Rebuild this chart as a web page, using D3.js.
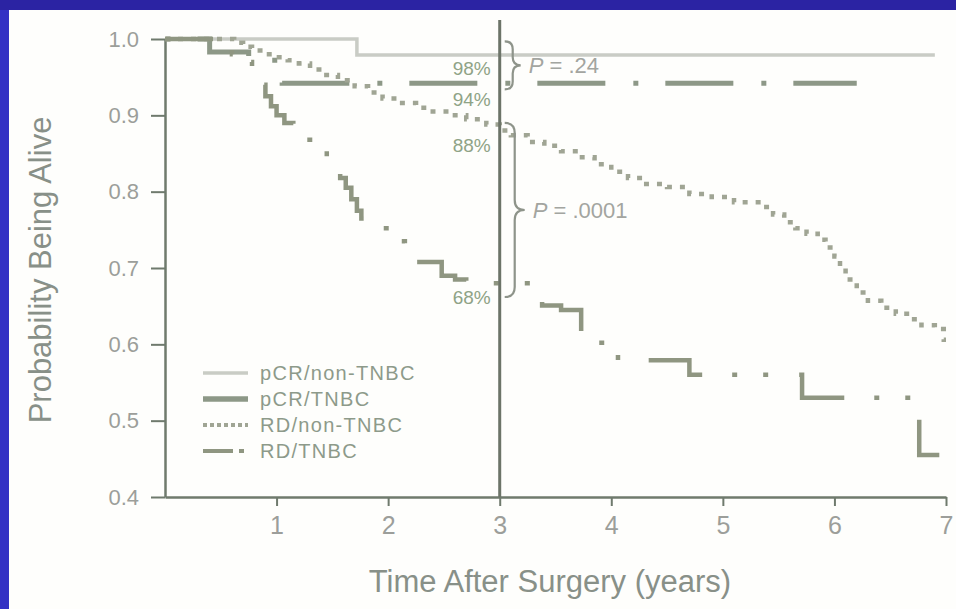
<!DOCTYPE html>
<html>
<head>
<meta charset="utf-8">
<script src="https://cdn.jsdelivr.net/npm/d3@7"></script>
<style>
  body { margin: 0; background: #2b23a3; }
  svg { display: block; }
  text { font-family: "Liberation Sans", Arial, sans-serif; }
</style>
</head>
<body>
<svg id="chart" width="956" height="609"></svg>
<script>
// ---- data ----
const timeTicks = [1, 2, 3, 4, 5, 6, 7];
const probTicks = [0.4, 0.5, 0.6, 0.7, 0.8, 0.9, 1.0];
const seriesNames = ["pCR/non-TNBC", "pCR/TNBC", "RD/non-TNBC", "RD/TNBC"];

// [years, survival] step points (value holds until next point)
const pcrNonTnbc = [[0, 1.0], [1.72, 0.979], [6.9, 0.979]];
const pcrTnbc = [[0, 1.0], [0.4, 0.983], [0.75, 0.972], [1.05, 0.942], [6.2, 0.942]];
const rdNonTnbc = [
  [0, 1.0], [0.62, 0.995], [0.7, 0.99], [0.78, 0.985], [0.88, 0.98], [1.0, 0.976],
  [1.1, 0.972], [1.2, 0.968], [1.3, 0.96], [1.42, 0.953], [1.55, 0.946], [1.7, 0.938],
  [1.82, 0.93], [1.95, 0.922], [2.1, 0.916], [2.25, 0.91], [2.4, 0.905], [2.55, 0.9],
  [2.7, 0.895], [2.88, 0.888], [3.0, 0.88], [3.1, 0.874], [3.25, 0.865], [3.4, 0.86],
  [3.55, 0.853], [3.7, 0.845], [3.85, 0.836], [4.0, 0.826], [4.15, 0.818], [4.28, 0.81],
  [4.5, 0.806], [4.7, 0.797], [4.9, 0.793], [5.1, 0.786], [5.35, 0.78], [5.45, 0.77],
  [5.55, 0.76], [5.65, 0.752], [5.75, 0.745], [5.85, 0.737], [5.92, 0.727], [6.0, 0.715],
  [6.05, 0.7], [6.1, 0.685], [6.2, 0.668], [6.3, 0.657], [6.42, 0.648], [6.55, 0.64],
  [6.65, 0.633], [6.78, 0.625], [6.9, 0.62], [6.98, 0.606], [7.0, 0.606]
];
const rdTnbc = [
  [0, 1.0], [0.45, 0.99], [0.6, 0.98], [0.72, 0.97], [0.78, 0.955], [0.85, 0.94],
  [0.9, 0.925], [0.95, 0.912], [1.0, 0.9], [1.07, 0.89], [1.15, 0.88], [1.27, 0.868],
  [1.37, 0.857], [1.45, 0.845], [1.52, 0.83], [1.57, 0.818], [1.62, 0.805], [1.67, 0.79],
  [1.72, 0.775], [1.76, 0.765], [1.9, 0.752], [2.05, 0.735], [2.15, 0.72], [2.26, 0.708],
  [2.48, 0.69], [2.6, 0.685], [2.7, 0.68], [3.25, 0.665], [3.38, 0.651], [3.55, 0.645],
  [3.73, 0.616], [3.89, 0.602], [4.06, 0.579], [4.7, 0.56], [5.71, 0.53], [6.76, 0.455],
  [6.94, 0.455]
];

// 3-year landmark labels
const landmarkYear = 3;
const pctLabels = ["98%", "94%", "88%", "68%"];
const pctValues = [0.98, 0.94, 0.88, 0.68];
const pLabels = ["= .24", "= .0001"];
const pRanges = [[0.997, 0.934], [0.89, 0.662]];

// ---- layout ----
const svg = d3.select("#chart");
const width = 956, height = 609;

svg.append("rect").attr("width", width).attr("height", height).attr("fill", "#2b23a3");
svg.append("rect").attr("x", 0).attr("y", 10).attr("width", 9).attr("height", height - 10).attr("fill", "#3331c4");
svg.append("rect").attr("x", 9).attr("y", 10).attr("width", width - 9).attr("height", height - 10).attr("fill", "#fefefc");

const x = d3.scaleLinear().domain([0, 7]).range([165, 946]);
const y = d3.scaleLinear().domain([0.4, 1.0]).range([497, 39]);

const axisColor = "#6f7a6d";
const tickText = "#9c9e9a";

// y axis
const gy = svg.append("g")
  .attr("transform", "translate(" + x(0) + ",0)")
  .call(d3.axisLeft(y).tickValues(probTicks).tickFormat(d3.format(".1f"))
    .tickSize(14).tickSizeOuter(0).tickPadding(12));
gy.select(".domain").attr("stroke", axisColor).attr("stroke-width", 2.5);
gy.selectAll(".tick line").attr("stroke", axisColor).attr("stroke-width", 2);
gy.selectAll(".tick text").attr("fill", tickText).style("font-size", "22px");

// x axis
const gx = svg.append("g")
  .attr("transform", "translate(0," + y(0.4) + ")")
  .call(d3.axisBottom(x).tickValues(timeTicks).tickFormat(d3.format("d"))
    .tickSize(9).tickSizeOuter(0).tickPadding(10));
gx.select(".domain").attr("stroke", axisColor).attr("stroke-width", 2.5);
gx.selectAll(".tick line").attr("stroke", axisColor).attr("stroke-width", 2);
gx.selectAll(".tick text").attr("fill", tickText).style("font-size", "25px");

// axis titles
svg.append("text")
  .attr("x", 550).attr("y", 592)
  .attr("text-anchor", "middle")
  .attr("fill", "#889088")
  .style("font-size", "31px")
  .text("Time After Surgery (years)");

svg.append("text")
  .attr("transform", "translate(51,270) rotate(-90)")
  .attr("text-anchor", "middle")
  .attr("fill", "#889088")
  .style("font-size", "31px")
  .text("Probability Being Alive");

// ---- curves ----
const line = d3.line()
  .x(d => x(d[0]))
  .y(d => y(d[1]))
  .curve(d3.curveStepAfter);

// length of the step path up to a given time, used to line up dash patterns
function lengthTo(data, t) {
  const part = data.filter(d => d[0] <= t);
  part.push([t, part[part.length - 1][1]]);
  const tmp = svg.append("path").attr("d", line(part));
  const len = tmp.node().getTotalLength();
  tmp.remove();
  return len;
}

function dashOffset(data, t, period) {
  const len = lengthTo(data, t);
  return period - (len % period);
}

const series = [
  { name: seriesNames[0], data: pcrNonTnbc, color: "#c9ccc5", width: 3.5, dash: null },
  { name: seriesNames[1], data: pcrTnbc, color: "#8d9887", width: 5, dash: [68, 28, 5, 27], anchor: 2.19 },
  { name: seriesNames[2], data: rdNonTnbc, color: "#a0a594", width: 4.5, dash: [5, 8] },
  { name: seriesNames[3], data: rdTnbc, color: "#8f9681", width: 4.5, dash: [68, 30, 5, 26, 5, 31], anchor: 2.26 }
];

series.forEach(s => {
  const p = svg.append("path")
    .attr("d", line(s.data))
    .attr("fill", "none")
    .attr("stroke", s.color)
    .attr("stroke-width", s.width);
  if (s.dash) {
    p.attr("stroke-dasharray", s.dash.join(","));
    if (s.anchor !== undefined) {
      const period = d3.sum(s.dash);
      p.attr("stroke-dashoffset", dashOffset(s.data, s.anchor, period));
    }
  }
});

// landmark line at 3 years
svg.append("line")
  .attr("x1", x(landmarkYear)).attr("x2", x(landmarkYear))
  .attr("y1", y(1.025)).attr("y2", y(0.4))
  .attr("stroke", "#6c7468")
  .attr("stroke-width", 3);

// percent labels
svg.selectAll(".pct")
  .data(pctLabels)
  .enter()
  .append("text")
  .attr("class", "pct")
  .attr("x", x(landmarkYear) - 9)
  .attr("y", (d, i) => y(pctValues[i]) + 21)
  .attr("text-anchor", "end")
  .attr("fill", "#8fa386")
  .style("font-size", "19px")
  .text(d => d);

// braces with P values
function brace(x0, y0, y1, w) {
  const ym = (y0 + y1) / 2, q = w / 2;
  return "M" + x0 + "," + y0 +
    " Q" + (x0 + q) + "," + y0 + " " + (x0 + q) + "," + (y0 + q) +
    " L" + (x0 + q) + "," + (ym - q) +
    " Q" + (x0 + q) + "," + ym + " " + (x0 + w) + "," + ym +
    " Q" + (x0 + q) + "," + ym + " " + (x0 + q) + "," + (ym + q) +
    " L" + (x0 + q) + "," + (y1 - q) +
    " Q" + (x0 + q) + "," + y1 + " " + x0 + "," + y1;
}

pRanges.forEach((r, i) => {
  const bx = x(landmarkYear) + 5;
  const w = i === 0 ? 16 : 20;
  svg.append("path")
    .attr("d", brace(bx, y(r[0]), y(r[1]), w))
    .attr("fill", "none")
    .attr("stroke", "#8e948a")
    .attr("stroke-width", 2.2);
  const ty = (y(r[0]) + y(r[1])) / 2 + 8;
  const t = svg.append("text")
    .attr("x", bx + w + 8).attr("y", ty)
    .attr("fill", "#a3a5a0")
    .style("font-size", "22px");
  t.append("tspan").style("font-style", "italic").text("P");
  t.append("tspan").text(" " + pLabels[i]);
});

// ---- legend ----
const legend = svg.append("g").attr("transform", "translate(203,373)");
const legendRow = 26;
series.forEach((s, i) => {
  const row = legend.append("g").attr("transform", "translate(0," + (i * legendRow) + ")");
  const l = row.append("line")
    .attr("x1", 0).attr("x2", 45)
    .attr("stroke", s.color)
    .attr("stroke-width", i === 0 ? 3.5 : (i === 1 ? 5.5 : 4));
  if (i === 2) l.attr("stroke-dasharray", "4,3");
  if (i === 3) l.attr("stroke-dasharray", "30,6,5,20");
  row.append("text")
    .attr("x", 57).attr("y", 7)
    .attr("fill", "#8d9a8a")
    .style("font-size", "20px")
    .style("letter-spacing", "1.3px")
    .text(s.name);
});
</script>
</body>
</html>
